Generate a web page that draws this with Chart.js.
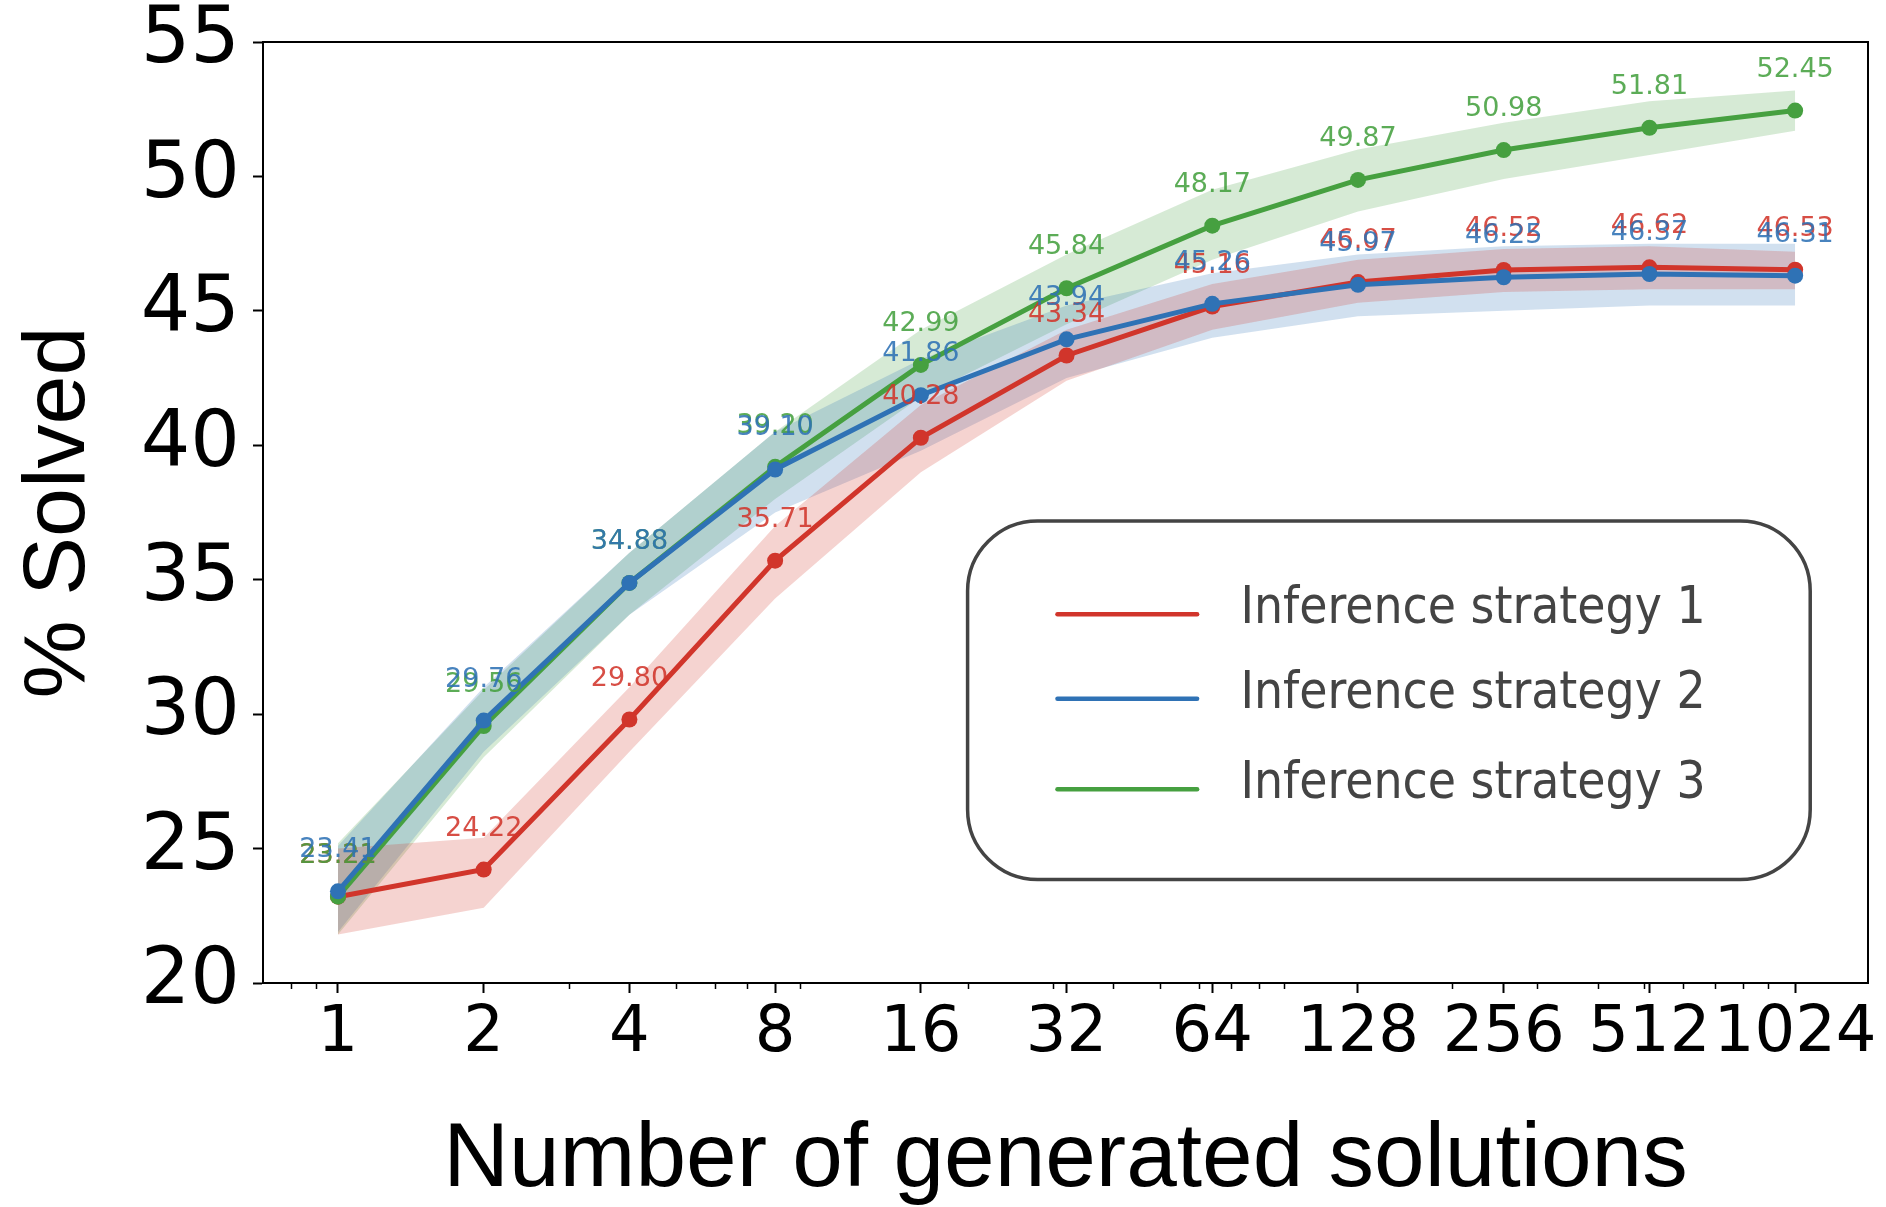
<!DOCTYPE html>
<html><head><meta charset="utf-8">
<script src="https://cdn.jsdelivr.net/npm/chart.js@4.4.1/dist/chart.umd.min.js"></script>
<style>html,body{margin:0;padding:0;background:#fff}#wrap{width:1886px;height:1207px}</style>
</head><body><div id="wrap"><canvas id="c" width="1886" height="1207"></canvas></div>
<script>
// ---- data ----
const xValues = [1, 2, 4, 8, 16, 32, 64, 128, 256, 512, 1024];
const seriesNames = ['Inference strategy 1', 'Inference strategy 2', 'Inference strategy 3'];
const strategy1 = [23.21, 24.22, 29.80, 35.71, 40.28, 43.34, 45.16, 46.07, 46.52, 46.62, 46.53];
const strategy2 = [23.41, 29.76, 34.88, 39.10, 41.86, 43.94, 45.26, 45.97, 46.25, 46.37, 46.31];
const strategy3 = [23.21, 29.56, 34.88, 39.20, 42.99, 45.84, 48.17, 49.87, 50.98, 51.81, 52.45];
const strategy1Low  = [21.8, 22.8, 28.6, 34.3, 39.0, 42.4, 44.3, 45.3, 45.7, 45.8, 45.8];
const strategy1High = [25.0, 25.4, 31.0, 37.0, 41.5, 44.3, 46.0, 46.9, 47.3, 47.4, 47.2];
const strategy2Low  = [21.9, 28.6, 33.7, 37.5, 39.8, 42.5, 44.0, 44.8, 45.0, 45.2, 45.2];
const strategy2High = [25.1, 31.0, 36.0, 40.5, 43.2, 45.2, 46.4, 47.1, 47.4, 47.5, 47.5];
const strategy3Low  = [21.8, 28.4, 33.7, 38.0, 41.8, 44.5, 46.9, 48.7, 49.9, 50.8, 51.7];
const strategy3High = [25.2, 30.9, 36.0, 40.5, 44.3, 47.1, 49.5, 51.0, 52.0, 52.8, 53.2];
const yTicks = [20, 25, 30, 35, 40, 45, 50, 55];
const xMinorTicks = [0.8, 0.9, 3, 5, 6, 7, 9, 20, 30, 40, 50, 60, 70, 80, 90, 200, 300, 400, 500, 600, 700, 800, 900];

// ---- styles ----
const colors = ['#d1352b', '#2f72b5', '#46a040'];
const rgba = (hex, a) => {
  const n = parseInt(hex.slice(1), 16);
  return `rgba(${(n >> 16) & 255},${(n >> 8) & 255},${n & 255},${a})`;
};
const pts = arr => arr.map((v, i) => ({x: xValues[i], y: v}));
const mains = [strategy1, strategy2, strategy3];
const lows = [strategy1Low, strategy2Low, strategy3Low];
const highs = [strategy1High, strategy2High, strategy3High];
const lineOrder = [2, 0, 1];

const datasets = [];
mains.forEach((d, i) => datasets.push({
  label: seriesNames[i], data: pts(d), borderColor: colors[i], backgroundColor: colors[i],
  borderWidth: 5, pointRadius: 8, pointHoverRadius: 8, pointBorderWidth: 0,
  fill: false, tension: 0, order: lineOrder[i]
}));
lows.forEach((d, i) => {
  const lowIndex = datasets.length;
  datasets.push({label: '_low' + i, data: pts(d), borderWidth: 0, borderColor: 'transparent',
    backgroundColor: 'transparent', pointRadius: 0, fill: false, order: 20 + i});
  datasets.push({label: '_high' + i, data: pts(highs[i]), borderWidth: 0, borderColor: 'transparent',
    backgroundColor: rgba(colors[i], 0.22), pointRadius: 0, fill: lowIndex, order: 20 + i});
});

const framePlugin = {
  id: 'frame',
  afterDatasetsDraw(chart) {
    const {ctx} = chart;
    ctx.save();
    ctx.font = '27px "DejaVu Sans"';
    ctx.textAlign = 'center';
    ctx.textBaseline = 'middle';
    [0, 2, 1].forEach(i => {
      const meta = chart.getDatasetMeta(i);
      ctx.fillStyle = rgba(colors[i], 0.88);
      meta.data.forEach((el, j) => ctx.fillText(mains[i][j].toFixed(2), el.x, el.y - 41));
    });
    ctx.restore();
  },
  afterDraw(chart) {
    const {ctx, chartArea: a} = chart;
    const xs = chart.scales.x;
    ctx.save();
    ctx.strokeStyle = '#000';
    ctx.lineWidth = 2;
    ctx.strokeRect(a.left, a.top, a.right - a.left, a.bottom - a.top);
    // minor ticks
    ctx.lineWidth = 1.5;
    ctx.beginPath();
    xMinorTicks.forEach(v => {
      const px = Math.round(xs.getPixelForValue(v)) + 0.5;
      ctx.moveTo(px, a.bottom);
      ctx.lineTo(px, a.bottom + 6);
    });
    ctx.stroke();
    // legend
    const W = a.right - a.left, H = a.bottom - a.top;
    const bx = a.left + 0.439 * W, by = a.top + 0.509 * H;
    const bw = 0.525 * W, bh = 0.381 * H;
    ctx.beginPath();
    ctx.roundRect(bx, by, bw, bh, 70);
    ctx.fillStyle = '#fff';
    ctx.fill();
    ctx.lineWidth = 3.5;
    ctx.strokeStyle = '#444';
    ctx.stroke();
    const rows = [0.608, 0.698, 0.794];
    ctx.font = '51px "DejaVu Sans Condensed", "DejaVu Sans"';
    ctx.textBaseline = 'middle';
    ctx.textAlign = 'left';
    rows.forEach((r, i) => {
      const y = a.top + r * H;
      ctx.strokeStyle = colors[i];
      ctx.lineWidth = 4.5;
      ctx.lineCap = 'round';
      ctx.beginPath();
      ctx.moveTo(a.left + 0.495 * W, y);
      ctx.lineTo(a.left + 0.582 * W, y);
      ctx.stroke();
      ctx.fillStyle = '#444';
      ctx.fillText(chart.data.datasets[i].label, a.left + 0.609 * W, y - 4);
    });
    ctx.restore();
  }
};

new Chart(document.getElementById('c'), {
  type: 'line',
  data: {datasets},
  plugins: [framePlugin],
  options: {
    responsive: false, animation: false, devicePixelRatio: 1,
    layout: {padding: {top: 42, right: 18, left: 0, bottom: 0}},
    plugins: {legend: {display: false}, tooltip: {enabled: false}, filler: {drawTime: 'beforeDatasetsDraw'}},
    scales: {
      x: {
        type: 'logarithmic', min: Math.SQRT1_2, max: 1024 * Math.SQRT2,
        afterBuildTicks: s => { s.ticks = xValues.map(v => ({value: v})); },
        afterFit: s => { s.height = 224; },
        ticks: {autoSkip: false, maxRotation: 0, minRotation: 0, padding: 3, color: '#000',
          font: {family: 'DejaVu Sans', size: 64}, callback: v => String(v)},
        grid: {display: true, drawOnChartArea: false, tickLength: 10, tickColor: '#000', tickWidth: 2},
        border: {display: true, color: '#000', width: 2},
        title: {display: true, text: 'Number of generated solutions', color: '#000',
          font: {family: 'Liberation Sans', size: 91}, padding: {top: 0, bottom: -9}}
      },
      y: {
        type: 'linear', min: 20, max: 55,
        afterBuildTicks: s => { s.ticks = yTicks.map(v => ({value: v})); },
        afterFit: s => { s.width = 263; s.paddingTop = 0; s.paddingBottom = 0; },
        ticks: {padding: 13, color: '#000', font: {family: 'DejaVu Sans', size: 78}},
        grid: {display: true, drawOnChartArea: false, tickLength: 10, tickColor: '#000', tickWidth: 2},
        border: {display: true, color: '#000', width: 2},
        title: {display: true, text: '% Solved', color: '#000',
          font: {family: 'Liberation Sans', size: 88}, padding: {top: 7, bottom: 0}}
      }
    }
  }
});
</script>
</body></html>
